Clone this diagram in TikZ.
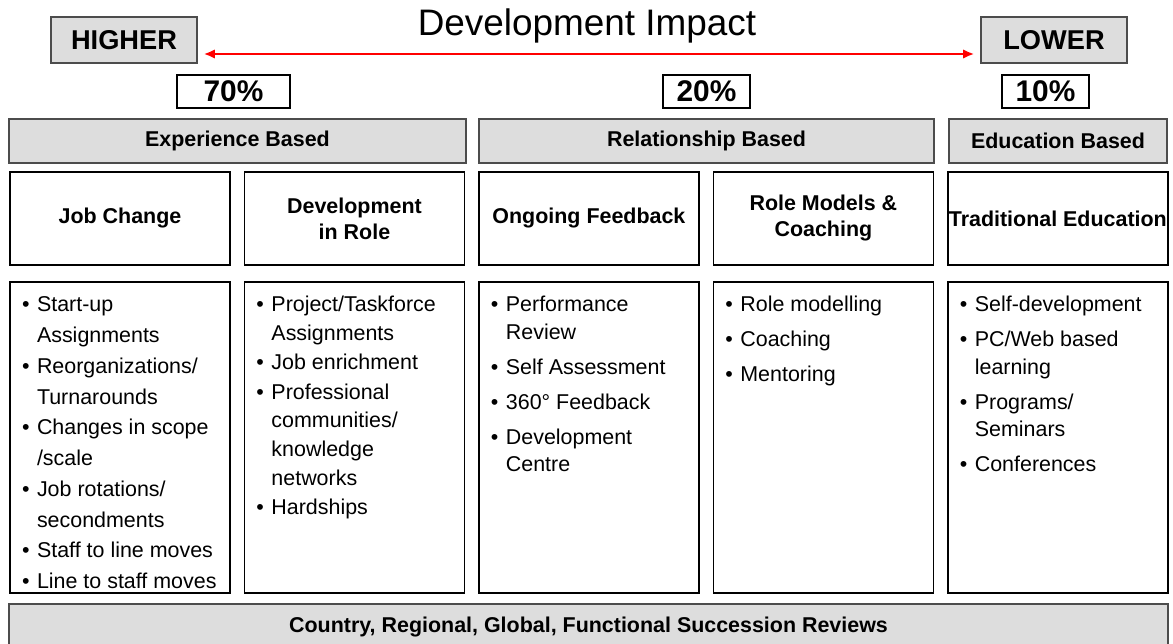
\documentclass[tikz,border=0pt]{standalone}
\usepackage{fontspec}
\setmainfont{Liberation Sans}
\usetikzlibrary{positioning, arrows.meta}
\definecolor{boxgray}{HTML}{DDDDDD}

% one point of a list, its later lines hang under the text
\newcommand{\bitem}{\par\hangindent=0.3cm\hangafter=1\noindent\makebox[0.3cm][l]{\textbullet}}
% #1 line spacing, #2 extra gap between points, #3 the points
\newcommand{\pointlist}[3]{\parbox[t][6.22cm][t]{3.92cm}{\fontsize{12.2pt}{#1}\selectfont\setlength{\parskip}{#2}\raggedright #3}}

\tikzset{
graybox/.style={draw=black!70, fill=boxgray, line width=0.9pt, inner sep=0pt,
  font=\fontsize{12.2pt}{14.8pt}\selectfont\bfseries}, % shaded bars
endbox/.style={graybox, minimum width=2.92cm, minimum height=0.92cm,
  font=\fontsize{15.5pt}{18pt}\selectfont\bfseries},
bandbox/.style={graybox, minimum height=0.88cm},
sharebox/.style={draw, fill=white, line width=0.9pt, minimum height=0.66cm, inner sep=0pt,
  font=\fontsize{17pt}{20pt}\selectfont\bfseries},
headbox/.style={draw, line width=0.9pt, minimum width=4.40cm, minimum height=1.86cm,
  inner sep=0pt, outer sep=0pt, align=center, font=\fontsize{12.2pt}{14.8pt}\selectfont\bfseries},
listbox/.style={draw, line width=0.9pt, inner xsep=0.24cm, inner ysep=0pt, outer sep=0pt},
impact/.style={red, line width=1.4pt,
  {Latex[length=0.22cm,width=0.19cm]}-{Latex[length=0.22cm,width=0.19cm]}},
}

\begin{document}
\begin{tikzpicture}[x=0.02cm, y=-0.02cm]
    \useasboundingbox (0,0) rectangle (1173,644);

    \node[endbox] (higher) at (124,40) {HIGHER};
    \node[endbox] (lower) at (1054,40) {LOWER};
    \node[font=\fontsize{21pt}{24pt}\selectfont, anchor=base] (title) at (587,36) {Development Impact};
    \draw[impact, shorten <=0.12cm, shorten >=0.12cm]
      ([yshift=-0.28cm]higher.east) -- ([yshift=-0.28cm]lower.west);

    \node[sharebox, minimum width=2.26cm] (p70) at (233.5,91.5) {70\%};
    \node[sharebox, minimum width=1.74cm] (p20) at (706.5,91.5) {20\%};
    \node[sharebox, minimum width=1.74cm] (p10) at (1045.5,91.5) {10\%};

    \node[bandbox, minimum width=9.14cm] (experience) at (237.5,141) {Experience Based};
    \node[bandbox, minimum width=9.10cm] (relationship) at (706.5,141) {Relationship Based};
    \node[bandbox, minimum width=4.36cm] (education) at (1058,141) {Education Based};

    \node[headbox] (jobchange) at (120,218.5) {Job Change};
    \node[headbox, right=0.29cm of jobchange] (inrole) {Development\\in Role};
    \node[headbox, right=0.29cm of inrole] (feedback) {Ongoing Feedback};
    \node[headbox, right=0.29cm of feedback] (coaching) {Role Models \&\\Coaching};
    \node[headbox, right=0.29cm of coaching] (traditional) {Traditional Education};

    \node[listbox, below=0.34cm of jobchange] (jobpoints) {\pointlist{17.5pt}{0pt}{%
      \bitem\rule{0pt}{0.6cm}Start-up\newline Assignments
      \bitem Reorganizations/\newline Turnarounds
      \bitem Changes in scope\newline /scale
      \bitem Job rotations/\newline secondments
      \bitem Staff to line moves
      \bitem Line to staff moves}};
    \node[listbox, below=0.34cm of inrole] (rolepoints) {\pointlist{16.3pt}{0.4pt}{%
      \bitem\rule{0pt}{0.6cm}Project/Taskforce\newline Assignments
      \bitem Job enrichment
      \bitem Professional\newline communities/\newline knowledge\newline networks
      \bitem Hardships}};
    \node[listbox, below=0.34cm of feedback] (feedbackpoints) {\pointlist{15.6pt}{4.3pt}{%
      \bitem\rule{0pt}{0.6cm}Performance\newline Review
      \bitem Self Assessment
      \bitem 360° Feedback
      \bitem Development\newline Centre}};
    \node[listbox, below=0.34cm of coaching] (coachpoints) {\pointlist{15.6pt}{4.3pt}{%
      \bitem\rule{0pt}{0.6cm}Role modelling
      \bitem Coaching
      \bitem Mentoring}};
    \node[listbox, below=0.34cm of traditional] (edupoints) {\pointlist{15.6pt}{4.3pt}{%
      \bitem\rule{0pt}{0.6cm}Self-development
      \bitem PC/Web based\newline learning
      \bitem Programs/\newline Seminars
      \bitem Conferences}};

    \node[bandbox, minimum width=23.18cm, minimum height=0.92cm] (succession) at (588.5,627)
      {Country, Regional, Global, Functional Succession Reviews};
\end{tikzpicture}
\end{document}
